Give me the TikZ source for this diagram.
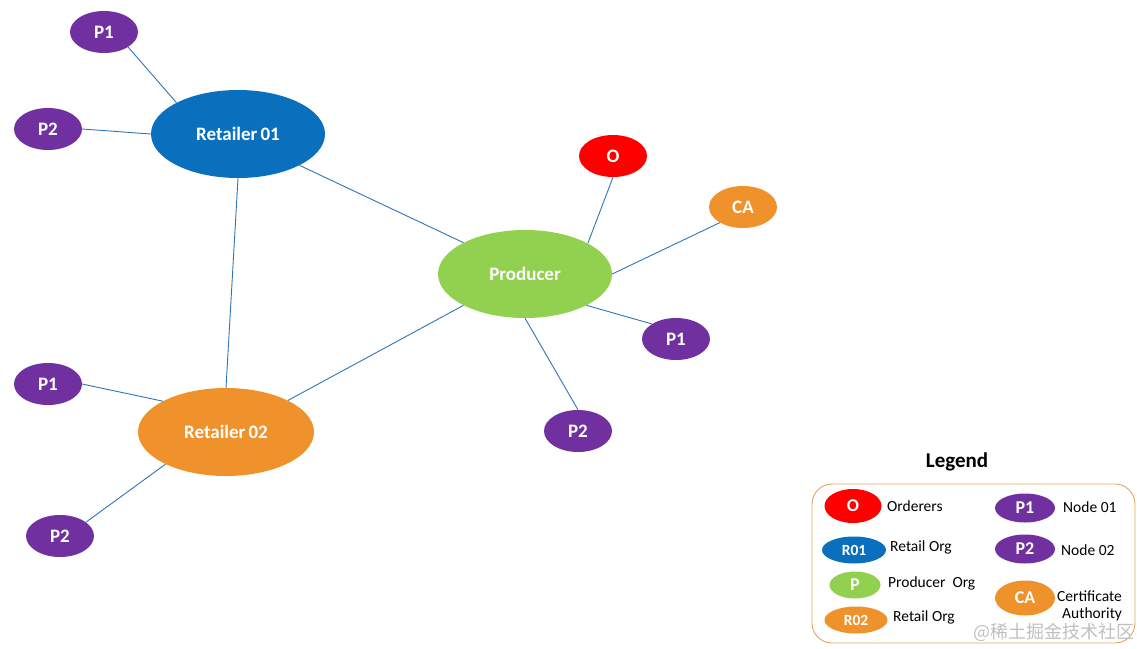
\documentclass[tikz,border=0pt]{standalone}
\usepackage{fontspec}
\setmainfont{Carlito}
\newfontfamily\cjk{Noto Sans CJK SC}
\usetikzlibrary{shapes.geometric}
\definecolor{cpurple}{HTML}{7030A0}
\definecolor{cblue}{HTML}{0A70BE}
\definecolor{cgreen}{HTML}{92D050}
\definecolor{corange}{HTML}{F0922B}
\definecolor{cred}{HTML}{FF0000}
\definecolor{cline}{HTML}{2E75B6}
\definecolor{cbox}{HTML}{E3A45A}
\tikzset{
  ell/.style={ellipse, inner sep=0pt, text=white, font=\bfseries\fontsize{19}{22}\selectfont},
  peer/.style={ell, fill=cpurple, minimum width=68pt, minimum height=42pt},
  org/.style={ell, minimum width=174pt, minimum height=88pt},
  small/.style={ell, minimum width=68pt, minimum height=42pt},
  link/.style={draw=cline, line width=0.9pt},
  lgell/.style={ellipse, inner sep=0pt, text=white, font=\bfseries\fontsize{18}{20}\selectfont},
  lgtext/.style={anchor=west, inner sep=0pt, font=\fontsize{15.5}{17}\selectfont},
}
\begin{document}
\begin{tikzpicture}[x=1pt,y=-1pt]
\useasboundingbox (0,0) rectangle (1137,648);
% main nodes
\node[peer] (p1a) at (104,32) {P1};
\node[peer] (p2a) at (48,129) {P2};
\node[org, fill=cblue] (r01) at (238,134) {Retailer\,01};
\node[small, fill=cred] (ord) at (613,156) {O};
\node[small, fill=corange] (ca) at (743,207) {CA};
\node[org, fill=cgreen] (prod) at (525,274) {Producer};
\node[peer] (p1c) at (676,339) {P1};
\node[peer] (p2c) at (578,431) {P2};
\node[peer] (p1b) at (48,384) {P1};
\node[org, fill=corange, minimum width=176pt] (r02) at (226,432) {Retailer\,02};
\node[peer] (p2b) at (60,536) {P2};
% links
\draw[link] (p1a.-32) -- (r01.153);
\draw[link] (p2a.east) -- (r01.west);
\draw[link] (r01.south) -- (r02.north);
\draw[link] (r01.-27) -- (prod.153);
\draw[link] (prod.26) -- (ord.south);
\draw[link] (prod.east) -- (ca.214);
\draw[link] (prod.-27) -- (p1c.148);
\draw[link] (prod.south) -- (p2c.north);
\draw[link] (r02.27) -- (prod.207);
\draw[link] (r02.154) -- (p1b.east);
\draw[link] (r02.208) -- (p2b.28);
% legend
\node[font=\bfseries\fontsize{21}{24}\selectfont] (lgtitle) at (957,462) {Legend};
\draw[cbox, line width=0.9pt, rounded corners=20pt] (812,484) rectangle (1135,643);
\node[lgell, fill=cred, minimum width=57pt, minimum height=34pt] (lo) at (853,506) {O};
\node[lgtext] (lot) at (887,506) {Orderers};
\node[lgell, fill=cblue, minimum width=64pt, minimum height=27pt, font=\bfseries\fontsize{15.5}{17}\selectfont] (lr1) at (854,550) {R01};
\node[lgtext] (lr1t) at (890,547) {Retail Org};
\node[lgell, fill=cgreen, minimum width=51pt, minimum height=27pt] (lp) at (855,585) {P};
\node[lgtext] (lpt) at (888,583) {Producer\ \ Org};
\node[lgell, fill=corange, minimum width=63pt, minimum height=27pt, font=\bfseries\fontsize{15.5}{17}\selectfont] (lr2) at (856,620) {R02};
\node[lgtext] (lr2t) at (893,617) {Retail Org};
\node[lgell, fill=cpurple, minimum width=60pt, minimum height=29pt] (lp1) at (1025,508) {P1};
\node[lgtext] (lp1t) at (1063,507) {Node 01};
\node[lgell, fill=cpurple, minimum width=60pt, minimum height=29pt] (lp2) at (1025,549) {P2};
\node[lgtext] (lp2t) at (1061,550) {Node 02};
\node[lgell, fill=corange, minimum width=60pt, minimum height=35pt] (lca) at (1025,598) {CA};
\node[lgtext] (lcat1) at (1057,596) {Certificate};
\node[lgtext] (lcat2) at (1062,614) {Authority};
% watermark
\node[anchor=east, inner sep=0pt, text=black!25, font=\cjk\fontsize{18}{20}\selectfont] (wm) at (1135,632) {@稀土掘金技术社区};
\end{tikzpicture}
\end{document}
